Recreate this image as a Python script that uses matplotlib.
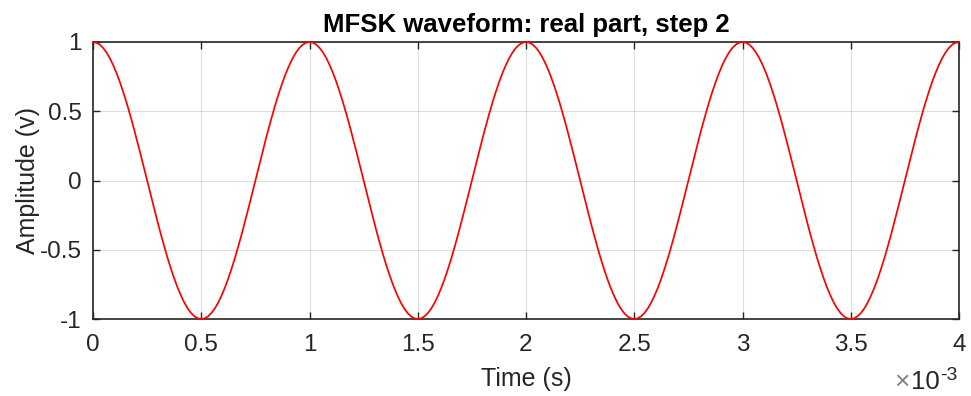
import numpy as np
import matplotlib
matplotlib.use("Agg")
import matplotlib.pyplot as plt

one_period = [
    1.000, 0.995, 0.981, 0.957, 0.924, 0.882, 0.831, 0.773,
    0.707, 0.634, 0.556, 0.471, 0.383, 0.290, 0.195, 0.098,
    0.000, -0.098, -0.195, -0.290, -0.383, -0.471, -0.556, -0.634,
    -0.707, -0.773, -0.831, -0.882, -0.924, -0.957, -0.981, -0.995,
    -1.000, -0.995, -0.981, -0.957, -0.924, -0.882, -0.831, -0.773,
    -0.707, -0.634, -0.556, -0.471, -0.383, -0.290, -0.195, -0.098,
    0.000, 0.098, 0.195, 0.290, 0.383, 0.471, 0.556, 0.634,
    0.707, 0.773, 0.831, 0.882, 0.924, 0.957, 0.981, 0.995,
]
n_periods = 4
amplitude = one_period * n_periods + [1.000]
t_start, t_end = 0.0, 4e-3
x_ticks = [0, 0.5, 1, 1.5, 2, 2.5, 3, 3.5, 4]
x_tick_labels = ["0", "0.5", "1", "1.5", "2", "2.5", "3", "3.5", "4"]
y_ticks = [-1, -0.5, 0, 0.5, 1]
y_tick_labels = ["-1", "-0.5", "0", "0.5", "1"]

time_ms = np.linspace(t_start, t_end, len(amplitude)) * 1e3

plt.rcParams['font.family'] = ['Liberation Sans', 'DejaVu Sans']
fg = '#262626'

fig = plt.figure(figsize=(9.71, 3.96), dpi=100)
ax = fig.add_axes([93/971, 1 - 319/396, (959-93)/971, (319-42)/396])

ax.plot(time_ms, amplitude, color='#ff0000', lw=1.25, clip_on=False, zorder=3)

ax.set_xlim(0, 4)
ax.set_ylim(-1, 1)
ax.set_xticks(x_ticks)
ax.set_xticklabels(x_tick_labels)
ax.set_yticks(y_ticks)
ax.set_yticklabels(y_tick_labels)
ax.grid(True, color='#000000', alpha=0.13, lw=0.8)
ax.set_axisbelow(True)

for s in ax.spines.values():
    s.set_color(fg)
    s.set_linewidth(1.2)
ax.tick_params(direction='in', top=True, right=True, length=5, width=1.0,
               colors=fg, labelsize=17.5)
ax.tick_params(axis='x', pad=11)
ax.tick_params(axis='y', pad=8)

ax.set_xlabel('Time (s)', fontsize=18, color=fg, labelpad=8)
ax.set_ylabel('Amplitude (v)', fontsize=18, color=fg, labelpad=0)
ax.set_title('MFSK waveform: real part, step 2', fontsize=18.5, fontweight='bold',
             color='#000000', pad=7)

# exponent label below the right end of the x axis
base_y = -(389 - 319) / 277
ax.text((910 - 93) / 866, base_y, '×', transform=ax.transAxes,
        ha='right', va='baseline', fontsize=19, color='#808080')
ax.text((911 - 93) / 866, base_y, '10', transform=ax.transAxes,
        ha='left', va='baseline', fontsize=18.5, color=fg)
ax.text((940 - 93) / 866, -(380 - 319) / 277, '-3', transform=ax.transAxes,
        ha='left', va='baseline', fontsize=14, color=fg)

fig.savefig('out.png', dpi=100)
